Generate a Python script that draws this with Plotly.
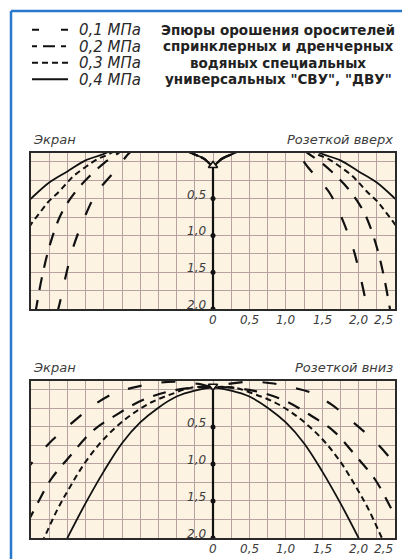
import plotly.graph_objects as go

# the page body adds an 8px margin; lay out in window pixels and convert
OFF = 8
W, H = 410 - OFF, 559 - OFF

# ---------------- data ----------------
pressures = ["0,1 МПа", "0,2 МПа", "0,3 МПа", "0,4 МПа"]
title_lines = [
    "Эпюры орошения оросителей",
    "спринклерных и дренчерных",
    "водяных специальных",
    "универсальных \"СВУ\", \"ДВУ\"",
]

# Rosette up (right half, mirrored to the left), y = depth below sprinkler, m
up_x_01 = [0.0, 0.12, 0.25, 0.5, 0.8, 1.0, 1.15, 1.31, 1.45, 1.6, 1.75, 1.92, 2.02, 2.11, 2.14]
up_y_01 = [0.05, -0.04, -0.10, -0.2, -0.28, -0.22, -0.12, 0.08, 0.24, 0.42, 0.72, 1.16, 1.54, 1.94, 2.05]
up_x_02 = [0.0, 0.12, 0.25, 0.5, 0.9, 1.15, 1.3, 1.5, 1.7, 1.86, 2.0, 2.11, 2.25, 2.35, 2.42, 2.44]
up_y_02 = [0.05, -0.04, -0.10, -0.2, -0.3, -0.24, -0.12, 0.02, 0.2, 0.37, 0.56, 0.76, 1.16, 1.57, 1.94, 2.05]
up_x_03 = [0.0, 0.12, 0.25, 0.5, 1.0, 1.25, 1.4, 1.6, 1.75, 1.9, 2.0, 2.12, 2.25, 2.37, 2.5, 2.6]
up_y_03 = [0.05, -0.04, -0.10, -0.2, -0.32, -0.24, -0.12, -0.03, 0.07, 0.18, 0.28, 0.41, 0.53, 0.68, 0.85, 1.0]
up_x_04 = [0.0, 0.12, 0.25, 0.5, 1.0, 1.3, 1.47, 1.75, 2.0, 2.25, 2.5, 2.6]
up_y_04 = [0.05, -0.04, -0.10, -0.2, -0.33, -0.24, -0.12, -0.02, 0.13, 0.28, 0.5, 0.6]

# Rosette down
dn_x_01 = [0.0, 0.2, 0.5, 0.8, 1.1, 1.35, 1.63, 2.0, 2.25, 2.5, 2.6]
dn_y_01 = [-0.04, -0.08, -0.11, -0.09, -0.03, 0.04, 0.2, 0.5, 0.72, 1.0, 1.12]
dn_x_02 = [0.0, 0.5, 0.95, 1.3, 1.66, 1.96, 2.22, 2.42, 2.55]
dn_y_02 = [-0.04, 0.0, 0.13, 0.32, 0.56, 0.89, 1.2, 1.55, 1.8]
dn_x_03 = [0.0, 0.3, 0.55, 0.83, 1.1, 1.33, 1.56, 1.77, 1.97, 2.14, 2.32, 2.35]
dn_y_03 = [-0.04, -0.03, 0.05, 0.16, 0.32, 0.5, 0.73, 1.0, 1.32, 1.62, 2.0, 2.06]
dn_x_04 = [0.0, 0.25, 0.5, 0.75, 1.0, 1.25, 1.5, 1.75, 2.0, 2.03]
dn_y_04 = [-0.03, 0.01, 0.09, 0.24, 0.44, 0.72, 1.1, 1.53, 2.0, 2.06]

sprinkler_up_y = 0.05
sprinkler_dn_y = -0.05
axis_mark_vals = [0.5, 1.0, 1.5, 2.0]
axis_mark_text = ["0,5", "1,0", "1,5", "2,0"]
x_tick_vals = [0, 0.5, 1.0, 1.5, 2.0, 2.5]
x_tick_text = ["0", "0,5", "1,0", "1,5", "2,0", "2,5"]

# ---------------- styles ----------------
chart_dash = ["14px,20px", "13px,10px", "6px,4px", "solid"]
legend_dash = ["7px,22px", "5px,6px,12px,6px", "6px,4px", "solid"]
line_w = [2.2, 2.2, 2.0, 1.8]
INK = "#111111"
TXT = "#3c3c3c"
GRID = "#b7a1a1"
BG = "#fdf3e2"
FONT = "DejaVu Sans"


def mirror(xs, ys):
    xl = [-v for v in reversed(xs[1:])]
    yl = list(reversed(ys[1:]))
    return xl + list(xs), yl + list(ys)


def px_x(p):
    return (p - OFF) / W


def px_y(p):
    return 1 - (p - OFF) / H


fig = go.Figure()

up_sets = [(up_x_01, up_y_01), (up_x_02, up_y_02), (up_x_03, up_y_03), (up_x_04, up_y_04)]
dn_sets = [(dn_x_01, dn_y_01), (dn_x_02, dn_y_02), (dn_x_03, dn_y_03), (dn_x_04, dn_y_04)]

panels = [
    ("x", "y", up_sets, sprinkler_up_y, "triangle-up"),
    ("x2", "y2", dn_sets, sprinkler_dn_y, "triangle-down"),
]
for xa, ya, sets, sy, sym in panels:
    fig.add_trace(go.Scatter(x=[0, 0], y=[sy, axis_mark_vals[-1]], mode="lines",
                             line=dict(color=INK, width=2.2), xaxis=xa, yaxis=ya,
                             showlegend=False, hoverinfo="skip"))
    fig.add_trace(go.Scatter(x=[0] * len(axis_mark_vals), y=axis_mark_vals, mode="markers",
                             marker=dict(color=INK, size=5), xaxis=xa, yaxis=ya,
                             showlegend=False, hoverinfo="skip"))
    for i, (xs, ys) in enumerate(sets):
        fx, fy = mirror(xs, ys)
        fig.add_trace(go.Scatter(x=fx, y=fy, mode="lines", line_shape="spline",
                                 line=dict(color=INK, width=line_w[i], dash=chart_dash[i]),
                                 xaxis=xa, yaxis=ya, showlegend=False, hoverinfo="skip"))
    fig.add_trace(go.Scatter(x=[0], y=[sy], mode="markers",
                             marker=dict(symbol=sym, size=8, color=BG,
                                         line=dict(color=INK, width=1.6)),
                             xaxis=xa, yaxis=ya, showlegend=False, hoverinfo="skip"))

# legend samples
for i, p in enumerate(pressures):
    fig.add_trace(go.Scatter(x=[0, 1], y=[p, p], mode="lines",
                             line=dict(color=INK, width=2.0, dash=legend_dash[i]),
                             xaxis="x3", yaxis="y3", showlegend=False, hoverinfo="skip"))

x_dom = [px_x(31), px_x(395)]
top_dom = [px_y(309), px_y(153)]
bot_dom = [px_y(538), px_y(381)]


def xaxis_cfg(anchor):
    return dict(domain=x_dom, anchor=anchor, range=[-2.5, 2.5],
                tickmode="array", tickvals=x_tick_vals, showticklabels=False,
                showgrid=True, gridcolor=GRID, gridwidth=1.2,
                minor=dict(dtick=0.25, tick0=0, showgrid=True, gridcolor=GRID, gridwidth=1.2),
                zeroline=False, showline=True, mirror=True, linecolor="#2a2a2a", linewidth=2,
                ticks="")


def yaxis_cfg(anchor, dom):
    return dict(domain=dom, anchor=anchor, range=[2.0, -0.12],
                dtick=0.25, tick0=0, showgrid=True, gridcolor=GRID, gridwidth=1.2,
                showticklabels=False, zeroline=False, showline=True, mirror=True,
                linecolor="#2a2a2a", linewidth=2, ticks="")


fig.update_layout(
    width=W, height=H, margin=dict(l=0, r=0, t=0, b=0),
    paper_bgcolor="white", plot_bgcolor="rgba(0,0,0,0)",
    xaxis=xaxis_cfg("y"), yaxis=yaxis_cfg("x", top_dom),
    xaxis2=xaxis_cfg("y2"), yaxis2=yaxis_cfg("x2", bot_dom),
    xaxis3=dict(domain=[px_x(32), px_x(68)], anchor="y3", range=[0, 1], visible=False),
    yaxis3=dict(domain=[px_y(87.5), px_y(21.5)], anchor="x3", type="category",
                categoryorder="array", categoryarray=pressures, range=[3.5, -0.5],
                tickmode="array", tickvals=pressures, ticktext=pressures,
                side="right", showgrid=False, zeroline=False, showline=False, ticks="",
                ticklabelstandoff=10,
                tickfont=dict(family=FONT, size=15, color="#2a2a2a", style="italic")),
    showlegend=False,
)

ann = []
for xa, ya, label in [("x", "y", "Розеткой вверх"), ("x2", "y2", "Розеткой вниз")]:
    for v, t in zip(axis_mark_vals, axis_mark_text):
        ann.append(dict(x=0, y=v, xref=xa, yref=ya, text=t, showarrow=False,
                        xanchor="right", yanchor="middle", xshift=-5, yshift=4,
                        font=dict(family=FONT, size=12, color=TXT, style="italic")))
    for j, (v, t) in enumerate(zip(x_tick_vals, x_tick_text)):
        last = j == len(x_tick_vals) - 1
        ann.append(dict(x=v, y=axis_mark_vals[-1], xref=xa, yref=ya, text=t, showarrow=False,
                        xanchor="right" if last else "center", yanchor="top", yshift=-2,
                        font=dict(family=FONT, size=12, color=TXT, style="italic")))
    ann.append(dict(x=0, y=1, xref=xa + " domain", yref=ya + " domain", text="Экран",
                    showarrow=False, xanchor="left", yanchor="bottom", yshift=4,
                    font=dict(family=FONT, size=13, color=TXT, style="italic")))
    ann.append(dict(x=1, y=1, xref=xa + " domain", yref=ya + " domain", text=label,
                    showarrow=False, xanchor="right", yanchor="bottom", yshift=4,
                    font=dict(family=FONT, size=13, color=TXT, style="italic")))
    fig.add_shape(type="rect", xref=xa + " domain", yref=ya + " domain", x0=0, x1=1, y0=0, y1=1,
                  fillcolor=BG, line=dict(width=0), layer="below")

for i, t in enumerate(title_lines):
    ann.append(dict(x=px_x(278), y=i, xref="paper", yref="y3", text="<b>" + t + "</b>",
                    showarrow=False, xanchor="center", yanchor="middle",
                    font=dict(family=FONT, size=13.5, color="#222222")))

fig.update_layout(annotations=ann)

blue = "#2a78cc"
fig.add_shape(type="line", xref="paper", yref="paper", x0=px_x(11), x1=px_x(11),
              y0=0, y1=px_y(11), line=dict(color=blue, width=2.5))
fig.add_shape(type="line", xref="paper", yref="paper", x0=px_x(11), x1=px_x(405),
              y0=px_y(11), y1=px_y(11), line=dict(color=blue, width=2.5))

fig.write_html("out.html")
